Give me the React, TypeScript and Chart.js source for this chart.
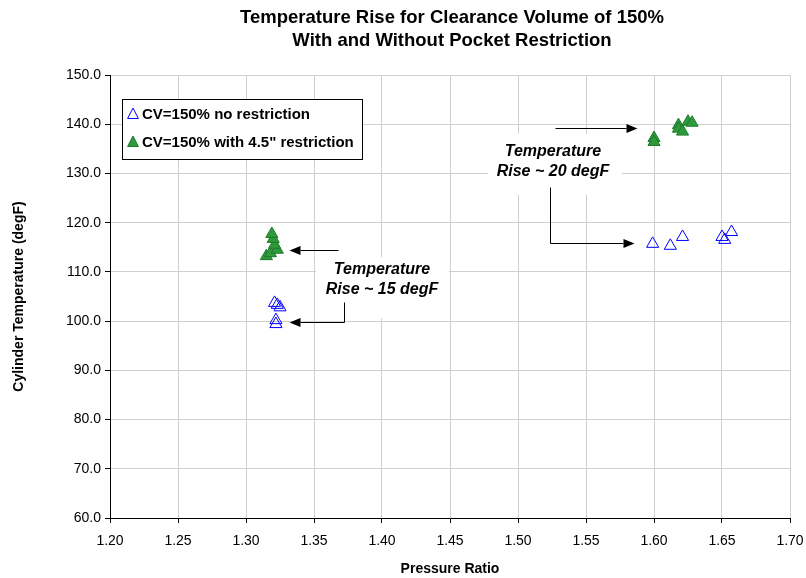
import React, { useEffect, useRef } from "react";
import { Chart, registerables } from "chart.js";

Chart.register(...registerables);

// ---- text ----
const chartTitle = ["Temperature Rise for Clearance Volume of 150%", "With and Without Pocket Restriction"];
const xAxisTitle = "Pressure Ratio";
const yAxisTitle = "Cylinder Temperature (degF)";
const seriesNames = ["CV=150% no restriction", 'CV=150% with 4.5" restriction'];
const noteLines = [
  ["Temperature", "Rise ~ 15 degF"],
  ["Temperature", "Rise ~ 20 degF"],
];

// ---- data ----
const noRestrictionRatio = [1.321, 1.323, 1.325, 1.322, 1.322, 1.599, 1.612, 1.621, 1.650, 1.652, 1.657];
const noRestrictionTemp = [103.7, 103.3, 102.8, 100.2, 99.4, 115.7, 115.3, 117.1, 117.1, 116.5, 118.1];
const restrictionRatio = [1.315, 1.318, 1.323, 1.321, 1.320, 1.319, 1.600, 1.600, 1.618, 1.618, 1.621, 1.625, 1.628];
const restrictionTemp = [113.2, 113.8, 114.5, 115.5, 116.7, 117.7, 137.2, 136.4, 139.8, 139.1, 138.5, 140.5, 140.3];

// ---- axes ----
const xMin = 1.2;
const xMax = 1.7;
const xStep = 0.05;
const yMin = 60;
const yMax = 150;
const yStep = 10;

// ---- annotation anchors (data units) ----
const noteTextX = [1.4, 1.5257];
const noteTextY = [
  [110.4, 106.5],
  [134.4, 130.3],
];
const noteBoxes = [
  [1.3515, 1.4493, 100.6, 113.0],
  [1.478, 1.5765, 125.65, 138.1],
];
const noteArrows = [
  [[1.3676, 114.45], [1.3316, 114.45]],
  [[1.3721, 103.9], [1.3721, 99.8], [1.3316, 99.8]],
  [[1.5272, 139.24], [1.5875, 139.24]],
  [[1.5235, 127.25], [1.5235, 115.87], [1.5853, 115.87]],
];

const FONT = "'Liberation Sans', Arial, Helvetica, sans-serif";
const BLUE = "#0000ff";
const GREEN_FILL = "#2f9a3c";
const GREEN_EDGE = "#1b7a2a";

function toPoints(xs: number[], ys: number[]) {
  return xs.map((x, i) => ({ x, y: ys[i] }));
}

const decorPlugin = {
  id: "decor",
  beforeDatasetsDraw(chart: any) {
    const { ctx, scales } = chart;
    const xs = scales.x;
    const ys = scales.y;
    ctx.save();
    ctx.fillStyle = "#ffffff";
    noteBoxes.forEach((b) => {
      const x1 = xs.getPixelForValue(b[0]);
      const x2 = xs.getPixelForValue(b[1]);
      const y1 = ys.getPixelForValue(b[3]);
      const y2 = ys.getPixelForValue(b[2]);
      ctx.fillRect(x1, y1, x2 - x1, y2 - y1);
    });
    ctx.strokeStyle = "#000000";
    ctx.fillStyle = "#000000";
    ctx.lineWidth = 1;
    noteArrows.forEach((path) => {
      const pts = path.map((p) => [Math.round(xs.getPixelForValue(p[0])) + 0.5, Math.round(ys.getPixelForValue(p[1])) + 0.5]);
      const n = pts.length;
      const tip = pts[n - 1];
      const prev = pts[n - 2];
      const dx = tip[0] - prev[0];
      const dy = tip[1] - prev[1];
      const len = Math.hypot(dx, dy);
      const ux = dx / len;
      const uy = dy / len;
      const headLen = 11;
      const headHalf = 4.5;
      ctx.beginPath();
      ctx.moveTo(pts[0][0], pts[0][1]);
      for (let i = 1; i < n - 1; i++) ctx.lineTo(pts[i][0], pts[i][1]);
      ctx.lineTo(tip[0] - ux * headLen, tip[1] - uy * headLen);
      ctx.stroke();
      ctx.beginPath();
      ctx.moveTo(tip[0], tip[1]);
      ctx.lineTo(tip[0] - ux * headLen - uy * headHalf, tip[1] - uy * headLen + ux * headHalf);
      ctx.lineTo(tip[0] - ux * headLen + uy * headHalf, tip[1] - uy * headLen - ux * headHalf);
      ctx.closePath();
      ctx.fill();
    });
    ctx.font = `italic bold 16px ${FONT}`;
    ctx.textAlign = "center";
    ctx.textBaseline = "middle";
    noteLines.forEach((lines, k) => {
      lines.forEach((t, j) => {
        ctx.fillText(t, xs.getPixelForValue(noteTextX[k]), ys.getPixelForValue(noteTextY[k][j]));
      });
    });
    ctx.restore();
  },
  afterDatasetsDraw(chart: any) {
    const { ctx, chartArea } = chart;
    ctx.save();
    const lx = chartArea.left + 12;
    const ly = chartArea.top + 24;
    const lw = 240;
    const lh = 60;
    ctx.fillStyle = "#ffffff";
    ctx.fillRect(lx, ly, lw, lh);
    ctx.strokeStyle = "#000000";
    ctx.lineWidth = 1;
    ctx.strokeRect(lx + 0.5, ly + 0.5, lw, lh);
    ctx.font = `bold 15px ${FONT}`;
    ctx.textAlign = "left";
    ctx.textBaseline = "middle";
    const rowY = [ly + 15, ly + 43];
    seriesNames.forEach((name, i) => {
      const cx = lx + 11;
      const cy = rowY[i];
      const r = 6;
      ctx.beginPath();
      ctx.moveTo(cx, cy - r);
      ctx.lineTo(cx + r * 0.9, cy + r * 0.75);
      ctx.lineTo(cx - r * 0.9, cy + r * 0.75);
      ctx.closePath();
      if (i === 0) {
        ctx.strokeStyle = BLUE;
        ctx.stroke();
      } else {
        ctx.fillStyle = GREEN_FILL;
        ctx.fill();
        ctx.strokeStyle = GREEN_EDGE;
        ctx.stroke();
      }
      ctx.fillStyle = "#000000";
      ctx.fillText(name, lx + 20, cy + 1);
    });
    ctx.restore();
  },
  afterDraw(chart: any) {
    const { ctx, chartArea } = chart;
    const cx = (chartArea.left + chartArea.right) / 2;
    ctx.save();
    ctx.fillStyle = "#000000";
    ctx.textAlign = "center";
    ctx.textBaseline = "middle";
    ctx.font = `bold 18.5px ${FONT}`;
    ctx.fillText(chartTitle[0], cx + 2, 18);
    ctx.fillText(chartTitle[1], cx + 2, 41);
    ctx.font = `bold 14px ${FONT}`;
    ctx.fillText(xAxisTitle, cx, 569);
    ctx.translate(19, (chartArea.top + chartArea.bottom) / 2);
    ctx.rotate(-Math.PI / 2);
    ctx.fillText(yAxisTitle, 0, 0);
    ctx.restore();
  },
};

export default function App() {
  const canvasRef = useRef<HTMLCanvasElement | null>(null);

  useEffect(() => {
    const canvas = canvasRef.current;
    if (!canvas) return;
    const chart = new Chart(canvas, {
      type: "scatter",
      data: {
        datasets: [
          {
            label: seriesNames[0],
            data: toPoints(noRestrictionRatio, noRestrictionTemp),
            pointStyle: "triangle",
            pointRadius: 7,
            pointBorderWidth: 1,
            backgroundColor: "rgba(255,255,255,0)",
            borderColor: BLUE,
            showLine: false,
          },
          {
            label: seriesNames[1],
            data: toPoints(restrictionRatio, restrictionTemp),
            pointStyle: "triangle",
            pointRadius: 7,
            pointBorderWidth: 1,
            backgroundColor: GREEN_FILL,
            borderColor: GREEN_EDGE,
            showLine: false,
          },
        ],
      },
      options: {
        animation: false,
        responsive: false,
        devicePixelRatio: 1,
        layout: { padding: { top: 75, right: 16, left: 0, bottom: 0 } },
        plugins: {
          legend: { display: false },
          title: { display: false },
          tooltip: { enabled: false },
        },
        scales: {
          x: {
            type: "linear",
            min: xMin,
            max: xMax,
            afterFit: (s: any) => {
              s.height = 60;
              s.paddingLeft = 0;
              s.paddingRight = 0;
            },
            ticks: {
              stepSize: xStep,
              color: "#000000",
              padding: 10,
              font: { family: FONT, size: 14 },
              callback: (v: any) => Number(v).toFixed(2),
            },
            grid: { color: "#cfcfcf", tickLength: 5, tickColor: "#000000", lineWidth: 1 },
            border: { display: true, color: "#000000", width: 1 },
          },
          y: {
            type: "linear",
            min: yMin,
            max: yMax,
            afterFit: (s: any) => {
              s.width = 110;
              s.paddingTop = 0;
              s.paddingBottom = 0;
            },
            ticks: {
              stepSize: yStep,
              color: "#000000",
              padding: 4,
              font: { family: FONT, size: 14 },
              callback: (v: any) => Number(v).toFixed(1),
            },
            grid: { color: "#cfcfcf", tickLength: 5, tickColor: "#000000", lineWidth: 1 },
            border: { display: true, color: "#000000", width: 1 },
          },
        },
      },
      plugins: [decorPlugin],
    });
    return () => chart.destroy();
  }, []);

  return (
    <div style={{ position: "absolute", left: 0, top: 0, width: 806, height: 578, background: "#ffffff" }}>
      <canvas ref={canvasRef} width={806} height={578} style={{ display: "block" }} />
    </div>
  );
}
